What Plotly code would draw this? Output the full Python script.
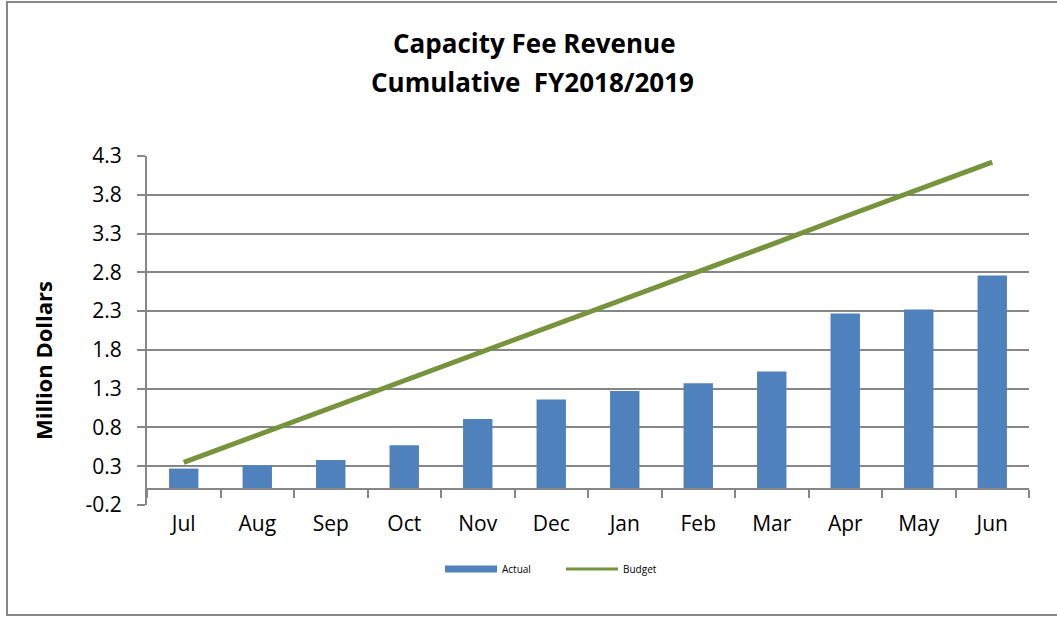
import plotly.graph_objects as go

months = ["Jul", "Aug", "Sep", "Oct", "Nov", "Dec", "Jan", "Feb", "Mar", "Apr", "May", "Jun"]
actual = [0.27, 0.31, 0.38, 0.57, 0.91, 1.16, 1.27, 1.37, 1.52, 2.27, 2.32, 2.76]
budget = [0.35, 0.70, 1.05, 1.41, 1.76, 2.11, 2.46, 2.81, 3.16, 3.52, 3.87, 4.22]
y_ticks = [-0.2, 0.3, 0.8, 1.3, 1.8, 2.3, 2.8, 3.3, 3.8, 4.3]
y_min, y_max = -0.2, 4.3

FONT = "Open Sans"
W, H = 1057, 617
L, R, T, B = 147, 28, 156, 112
pw, ph = W - L - R, H - T - B

def px_x(p):
    return (p - L) / pw

def px_y(p):
    return (H - B - p) / ph

BAR_COLOR = "#4F81BD"
LINE_COLOR = "#77933C"
GRID = "#868686"

fig = go.Figure()
fig.add_trace(go.Bar(x=months, y=actual, name="Actual", showlegend=False,
                     marker=dict(color=BAR_COLOR, line=dict(width=0))))
fig.add_trace(go.Scatter(x=months, y=budget, name="Budget", mode="lines", showlegend=False,
                         line=dict(color=LINE_COLOR, width=5)))
# legend entries (wide swatch for bars, thinner line for budget, like the original)
fig.add_trace(go.Scatter(x=[None], y=[None], name="Actual", mode="lines",
                         line=dict(color=BAR_COLOR, width=7), hoverinfo="skip"))
fig.add_trace(go.Scatter(x=[None], y=[None], name="Budget", mode="lines",
                         line=dict(color=LINE_COLOR, width=3), hoverinfo="skip"))

zero_pos = (0 - y_min) / (y_max - y_min)

fig.update_layout(
    width=W, height=H,
    margin=dict(l=L, r=R, t=T, b=B),
    paper_bgcolor="white", plot_bgcolor="white",
    font=dict(family=FONT, color="black"),
    bargap=0.6,
    showlegend=True,
    legend=dict(orientation="h", x=px_x(440), y=px_y(569), xanchor="left", yanchor="middle",
                font=dict(size=10, family=FONT), itemwidth=52, entrywidth=54,
                entrywidthmode="pixels", traceorder="normal",
                bgcolor="rgba(0,0,0,0)"),
    xaxis=dict(anchor="free", position=zero_pos, showline=True, linecolor=GRID, linewidth=2,
               ticks="outside", tickson="boundaries", ticklen=8, tickcolor=GRID, tickwidth=2,
               showgrid=False, tickfont=dict(size=21, family=FONT), ticklabelstandoff=15),
    yaxis=dict(range=[y_min, y_max], tickvals=y_ticks, ticktext=[f"{v:.1f}" for v in y_ticks],
               showline=True, linecolor=GRID, linewidth=2,
               ticks="outside", ticklen=8, tickcolor=GRID, tickwidth=2,
               showgrid=True, gridcolor=GRID, gridwidth=2, zeroline=False,
               tickfont=dict(size=21, family=FONT), ticklabelstandoff=11),
)

fig.add_annotation(text="<b>Capacity Fee Revenue</b>", xref="paper", yref="paper",
                   x=px_x(534), y=px_y(43), xanchor="center", yanchor="middle",
                   showarrow=False, font=dict(size=26, family=FONT))
fig.add_annotation(text="<b>Cumulative  FY2018/2019</b>", xref="paper", yref="paper",
                   x=px_x(532), y=px_y(82), xanchor="center", yanchor="middle",
                   showarrow=False, font=dict(size=26, family=FONT))
fig.add_annotation(text="<b>Million Dollars</b>", xref="paper", yref="paper", textangle=-90,
                   x=px_x(43), y=px_y(361), xanchor="center", yanchor="middle",
                   showarrow=False, font=dict(size=22, family=FONT))

fig.add_shape(type="rect", xref="paper", yref="paper",
              x0=px_x(7), x1=px_x(1070), y0=px_y(615), y1=px_y(2),
              line=dict(color=GRID, width=2), fillcolor="rgba(0,0,0,0)", layer="below")

fig.write_html("out.html", config={"displayModeBar": False},
               post_script="document.body.style.margin='0';")
